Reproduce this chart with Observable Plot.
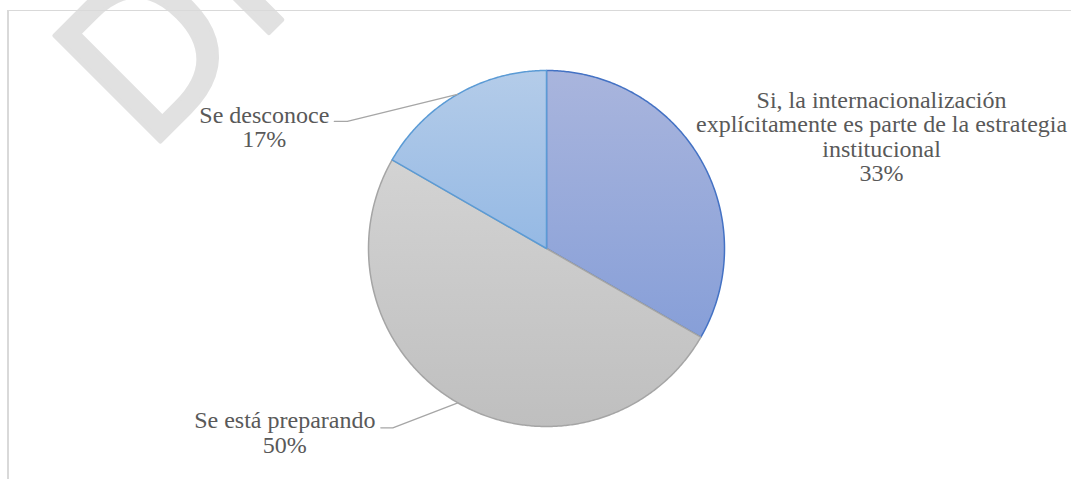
<!DOCTYPE html>
<html>
<head>
<meta charset="utf-8">
<script src="https://cdn.jsdelivr.net/npm/d3@7"></script>
<script src="https://cdn.jsdelivr.net/npm/@observablehq/plot@0.6"></script>
<style>
  html, body { margin: 0; padding: 0; background: #ffffff; overflow: hidden; }
  #wrap { position: relative; width: 1071px; height: 479px; overflow: hidden; background: #fff; }
  #wm { position: absolute; left: 0; top: 0; }
  #frame { position: absolute; left: 7px; top: 10px; width: 1080px; height: 480px;
           border-top: 1.5px solid #d9d9d9; border-left: 2px solid #d9d9d9; box-sizing: border-box; }
  #chart { position: absolute; left: 0; top: 0; }
  #chart text { font-family: "Liberation Serif", "Times New Roman", serif !important; }
</style>
</head>
<body>
<div id="wrap">
  <svg id="wm" width="1071" height="479">
    <text transform="translate(146,156) rotate(-45)" font-family="Noto Sans" font-size="210"
          fill="#e1e1e1" stroke="#e1e1e1" stroke-width="4" stroke-linejoin="round">DRAFT</text>
  </svg>
  <div id="frame"></div>
  <div id="chart"></div>
</div>
<script>
// ---- data ----
const categories = [
  "Si, la internacionalización explícitamente es parte de la estrategia institucional",
  "Se está preparando",
  "Se desconoce"
];
const shares = [33.3, 50.0, 16.7];
const labelLines = [
  ["Si, la internacionalización", "explícitamente es parte de la estrategia", "institucional"],
  ["Se está preparando"],
  ["Se desconoce"]
];

// ---- layout & style ----
const W = 1071, H = 479;
const cx = 546, cy = 248, R = 178;
const fontSize = 24;
const lineGap = 24.5;
const styles = [
  { top: "#a9b5dd", bottom: "#879fd8", stroke: "#4472c4" },
  { top: "#d3d3d3", bottom: "#bfbfbf", stroke: "#a5a5a5" },
  { top: "#b4cce9", bottom: "#95b9e4", stroke: "#5b9bd5" }
];
// label offsets (px) from the slice's outer mid-point: label = [centre x, first baseline]
const labelLayout = [
  { label: [181, -52], leader: null },
  { label: [-173, 25], leader: [[-65, 25], [-77, 25]] },
  { label: [-193, 28], leader: [[-110, 27], [-123, 27]] }
];

const rows = categories.map((c, i) => ({ category: c, value: shares[i], lines: labelLines[i] }));
const arcs = d3.pie().sort(null).value(d => d.value)(rows);

const marks = [];
arcs.forEach((a, i) => {
  const n = Math.max(2, Math.ceil((a.endAngle - a.startAngle) / (Math.PI / 360)));
  const pts = [{ x: 0, y: 0 }];
  for (let k = 0; k <= n; k++) {
    const t = a.startAngle + (a.endAngle - a.startAngle) * k / n;
    pts.push({ x: R * Math.sin(t), y: -R * Math.cos(t) });
  }
  marks.push(Plot.line(pts, {
    x: "x", y: "y", curve: "linear-closed",
    fill: `url(#grad${i})`, stroke: styles[i].stroke, strokeWidth: 1.5, strokeLinejoin: "round"
  }));
});

const labels = [];
const leaders = [];
arcs.forEach((a, i) => {
  const m = (a.startAngle + a.endAngle) / 2;
  const ax = R * Math.sin(m), ay = -R * Math.cos(m);
  const L = labelLayout[i];
  const pct = Math.round(a.data.value) + "%";
  labels.push({
    x: ax + L.label[0],
    y: ay + L.label[1] - 0.71 * fontSize,
    text: a.data.lines.concat([pct]).join("\n")
  });
  if (L.leader) {
    const pts = [{ x: ax, y: ay }].concat(L.leader.map(p => ({ x: ax + p[0], y: ay + p[1] })));
    pts.forEach(p => leaders.push({ ...p, i }));
  }
});

marks.push(Plot.line(leaders, { x: "x", y: "y", z: "i", stroke: "#a6a6a6", strokeWidth: 1.3 }));
marks.push(Plot.text(labels, {
  x: "x", y: "y", text: "text",
  textAnchor: "middle", lineAnchor: "top", lineHeight: lineGap / fontSize,
  fontSize: fontSize, fontFamily: "Liberation Serif", fill: "#595959"
}));

const chart = Plot.plot({
  width: W, height: H,
  margin: 0,
  x: { domain: [-cx, W - cx], range: [0, W], axis: null },
  y: { domain: [-cy, H - cy], range: [0, H], axis: null },
  style: { background: "transparent", overflow: "visible", fontFamily: "Liberation Serif" },
  marks
});

const defs = d3.select(chart).insert("defs", ":first-child");
styles.forEach((s, i) => {
  const g = defs.append("linearGradient").attr("id", `grad${i}`)
    .attr("x1", 0).attr("y1", 0).attr("x2", 0).attr("y2", 1);
  g.append("stop").attr("offset", "0%").attr("stop-color", s.top);
  g.append("stop").attr("offset", "100%").attr("stop-color", s.bottom);
});

document.getElementById("chart").appendChild(chart);
</script>
</body>
</html>
